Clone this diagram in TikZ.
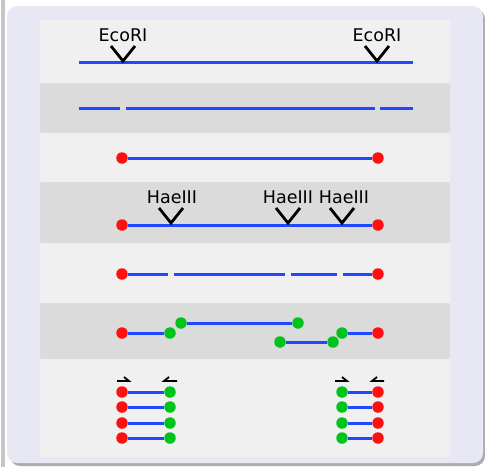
\documentclass[tikz,border=0pt]{standalone}
\usepackage{fontspec}
\setmainfont{DejaVu Sans}
\definecolor{framecol}{HTML}{E8E8F5}
\definecolor{lightband}{HTML}{F0F0F0}
\definecolor{darkband}{HTML}{DBDBDB}
\definecolor{dnablue}{HTML}{2248FF}
\definecolor{dotred}{HTML}{FF1010}
\definecolor{dotgreen}{HTML}{00C41A}
\begin{document}
\begin{tikzpicture}[x=1pt,y=-1pt,
  dna/.style={draw=dnablue,line width=3pt},
  cutmark/.style={draw=black,line width=2.8pt,line join=miter},
  rdot/.style={circle,fill=dotred,minimum size=11.5pt,inner sep=0pt},
  gdot/.style={circle,fill=dotgreen,minimum size=11.5pt,inner sep=0pt},
  lab/.style={font=\fontsize{17.5}{20}\selectfont,anchor=base,inner sep=0pt},
  primer/.style={draw=black,line width=1.8pt}]
\useasboundingbox (0,0) rectangle (485,467);
% frame
\fill[gray!45] (1,0) rectangle (5,467);
\fill[gray!65,rounded corners=10pt] (10,9) rectangle (485,466);
\fill[framecol,rounded corners=10pt] (7,6) rectangle (483,463);
% bands
\fill[lightband] (40,20) rectangle (450,457);
\fill[darkband,rounded corners=2pt] (40,83) rectangle (450,133);
\fill[darkband,rounded corners=2pt] (40,182) rectangle (450,243);
\fill[darkband,rounded corners=2pt] (40,303) rectangle (450,359);

% row 1: EcoRI sites
\coordinate (r1a) at (79,62); \coordinate (r1b) at (413,62);
\draw[dna] (r1a) -- (r1b);
\node[lab] (eco1) at (123,41) {EcoRI};
\node[lab] (eco2) at (377,41) {EcoRI};
\draw[cutmark] (111,46) -- (123,61) -- (135,46);
\draw[cutmark] (365,46) -- (377,61) -- (389,46);

% row 2: cut
\coordinate (r2a) at (79,108); \coordinate (r2b) at (120,108);
\coordinate (r2c) at (126,108); \coordinate (r2d) at (375,108);
\coordinate (r2e) at (380,108); \coordinate (r2f) at (413,108);
\draw[dna] (r2a) -- (r2b);
\draw[dna] (r2c) -- (r2d);
\draw[dna] (r2e) -- (r2f);

% row 3: ligated adaptors
\node[rdot] (r3a) at (122,158) {};
\node[rdot] (r3b) at (378,158) {};
\draw[dna] (r3a) -- (r3b);

% row 4: HaeIII sites
\node[rdot] (r4a) at (122,225) {};
\node[rdot] (r4b) at (378,225) {};
\draw[dna] (r4a) -- (r4b);
\node[lab] (hae1) at (172,203) {HaeIII};
\node[lab] (hae2) at (288,203) {HaeIII};
\node[lab] (hae3) at (344,203) {HaeIII};
\draw[cutmark] (159,208) -- (171,223) -- (183,208);
\draw[cutmark] (276,208) -- (288,223) -- (300,208);
\draw[cutmark] (330,208) -- (342,223) -- (354,208);

% row 5: cut fragments
\node[rdot] (r5a) at (122,274) {};
\node[rdot] (r5b) at (378,274) {};
\coordinate (r5c) at (168,274); \coordinate (r5d) at (174,274);
\coordinate (r5e) at (285,274); \coordinate (r5f) at (291,274);
\coordinate (r5g) at (337,274); \coordinate (r5h) at (343,274);
\draw[dna] (r5a) -- (r5c);
\draw[dna] (r5d) -- (r5e);
\draw[dna] (r5f) -- (r5g);
\draw[dna] (r5h) -- (r5b);

% row 6: second adaptors
\node[rdot] (r6a) at (122,333) {};
\node[gdot] (r6b) at (170,333) {};
\node[gdot] (r6c) at (181,323) {};
\node[gdot] (r6d) at (298,323) {};
\node[gdot] (r6e) at (280,342) {};
\node[gdot] (r6f) at (333,342) {};
\node[gdot] (r6g) at (342,333) {};
\node[rdot] (r6h) at (378,333) {};
\draw[dna] (r6a) -- (r6b);
\draw[dna] (r6c) -- (r6d);
\draw[dna] (r6e) -- (r6f);
\draw[dna] (r6g) -- (r6h);

% row 7: PCR products
\foreach \y [count=\i] in {392,407,423,438} {
  \node[rdot] (L\i a) at (122,\y) {};
  \node[gdot] (L\i b) at (170,\y) {};
  \node[gdot] (R\i a) at (342,\y) {};
  \node[rdot] (R\i b) at (378,\y) {};
  \draw[dna] (L\i a) -- (L\i b);
  \draw[dna] (R\i a) -- (R\i b);
}
% primers
\draw[primer] (117,381) -- (129,381) -- (124,377);
\draw[primer] (177,381) -- (164,381) -- (169,377);
\draw[primer] (335,381) -- (347,381) -- (342,377);
\draw[primer] (384,381) -- (372,381) -- (377,377);
\end{tikzpicture}
\end{document}
